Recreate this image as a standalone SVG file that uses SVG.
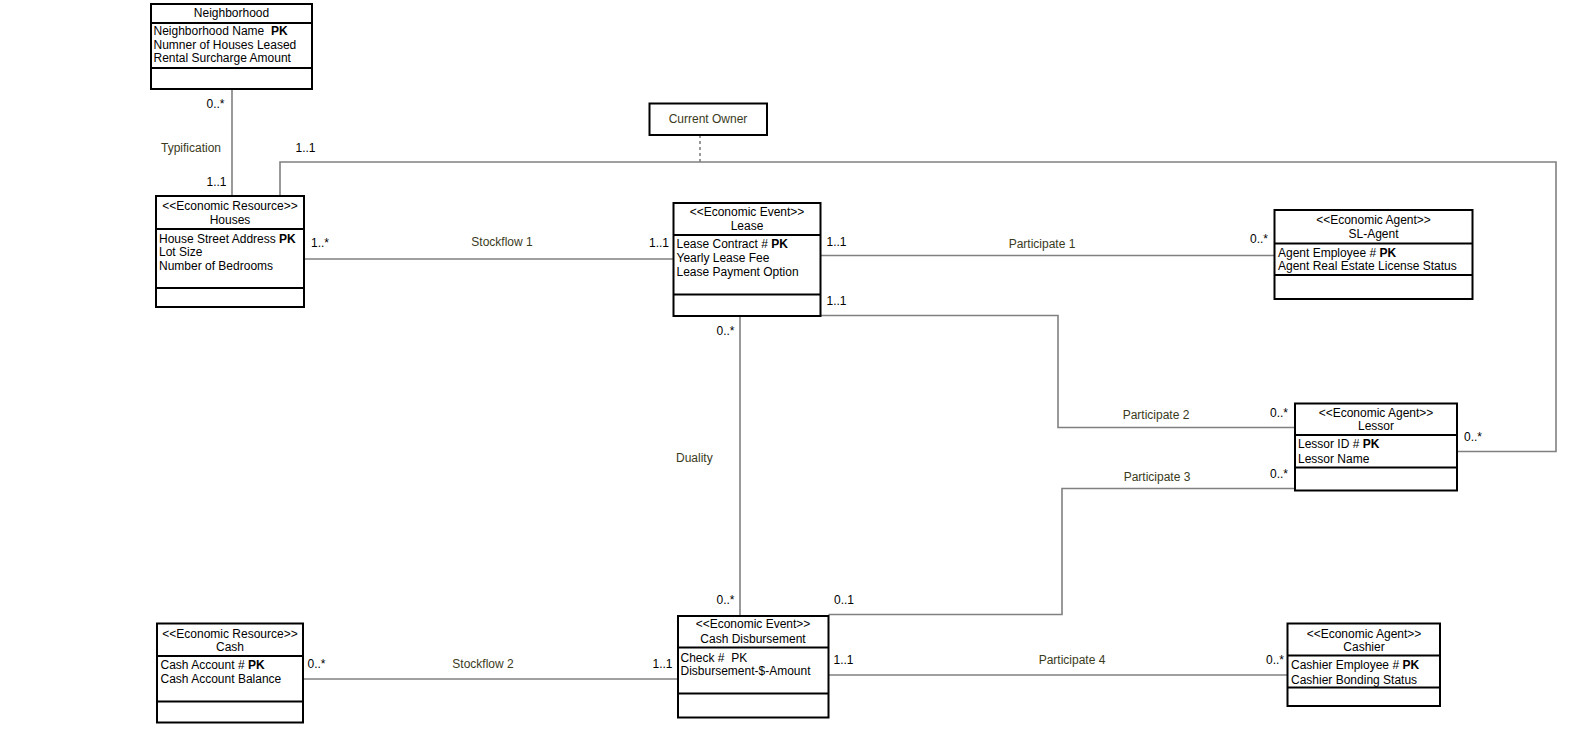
<svg xmlns="http://www.w3.org/2000/svg" width="1582" height="742" viewBox="0 0 1582 742">
<style>
.box{fill:#fff;stroke:#000;stroke-width:2}
.sep{stroke:#000;stroke-width:2}
.t{font-family:"Liberation Sans",Arial,sans-serif;font-size:12px;fill:#000}
.st{font-family:"Liberation Sans",Arial,sans-serif;font-size:12px;fill:#000;text-anchor:middle}
.c{text-anchor:middle}
.b{font-weight:bold}
.lbl{font-family:"Liberation Sans",Arial,sans-serif;font-size:12px;fill:#3a3a1c}
.m{font-family:"Liberation Sans",Arial,sans-serif;font-size:12px;fill:#000}
.ln{fill:none;stroke:#808080;stroke-width:1.6}
.dash{fill:none;stroke:#808080;stroke-width:1.6;stroke-dasharray:3,3}
</style>
<rect width="1582" height="742" fill="#fff"/>
<g id="connectors">
<line class="ln" x1="232" y1="89" x2="232" y2="196"/>
<polyline class="ln" points="280,196 280,162 1556,162 1556,451.5 1457,451.5"/>
<line class="dash" x1="700" y1="135" x2="700" y2="162"/>
<line class="ln" x1="304" y1="259" x2="673.5" y2="259"/>
<line class="ln" x1="820.5" y1="255.5" x2="1274.5" y2="255.5"/>
<polyline class="ln" points="820.5,315.5 1058,315.5 1058,427.5 1295,427.5"/>
<polyline class="ln" points="828.5,614.5 1062,614.5 1062,488.5 1295,488.5"/>
<line class="ln" x1="740" y1="316" x2="740" y2="616"/>
<line class="ln" x1="303" y1="679" x2="678" y2="679"/>
<line class="ln" x1="828.5" y1="675" x2="1287.5" y2="675"/>
<text class="m" x="206.5" y="107.5">0..*</text>
<text class="lbl" x="161" y="151.5">Typification</text>
<text class="m" x="295.5" y="151.5">1..1</text>
<text class="m" x="206.5" y="186">1..1</text>
<text class="m" x="311" y="247">1..*</text>
<text class="lbl c" x="502" y="246">Stockflow 1</text>
<text class="m" x="649" y="247">1..1</text>
<text class="m" x="826.5" y="245.5">1..1</text>
<text class="m" x="826.5" y="304.5">1..1</text>
<text class="lbl c" x="1042" y="248">Participate 1</text>
<text class="m" x="1250" y="243">0..*</text>
<text class="m" x="716.5" y="334.5">0..*</text>
<text class="lbl" x="676" y="462">Duality</text>
<text class="m" x="716.5" y="604">0..*</text>
<text class="m" x="834" y="604">0..1</text>
<text class="lbl c" x="1156" y="419">Participate 2</text>
<text class="lbl c" x="1157" y="480.5">Participate 3</text>
<text class="m" x="1270" y="416.5">0..*</text>
<text class="m" x="1270" y="478">0..*</text>
<text class="m" x="1464" y="441">0..*</text>
<text class="m" x="307.5" y="667.5">0..*</text>
<text class="lbl c" x="483" y="667.5">Stockflow 2</text>
<text class="m" x="652.5" y="668">1..1</text>
<text class="m" x="833.5" y="664">1..1</text>
<text class="lbl c" x="1072" y="664">Participate 4</text>
<text class="m" x="1266" y="664">0..*</text>
</g>
<g id="neighborhood">
<rect class="box" x="151" y="4" width="161" height="85"/>
<line class="sep" x1="151" y1="23" x2="312" y2="23"/>
<line class="sep" x1="151" y1="68" x2="312" y2="68"/>
<text class="t c" x="231.5" y="16.5">Neighborhood</text>
<text class="t" x="153.5" y="35" xml:space="preserve">Neighborhood Name  <tspan class="b">PK</tspan></text>
<text class="t" x="153.5" y="48.5">Numner of Houses Leased</text>
<text class="t" x="153.5" y="62">Rental Surcharge Amount</text>
</g>
<g id="houses">
<rect class="box" x="156" y="196" width="148" height="111"/>
<line class="sep" x1="156" y1="229" x2="304" y2="229"/>
<line class="sep" x1="156" y1="288" x2="304" y2="288"/>
<text class="st" x="230" y="209.5">&lt;&lt;Economic Resource&gt;&gt;</text>
<text class="t c" x="230" y="224">Houses</text>
<text class="t" x="159" y="242.5">House Street Address <tspan class="b">PK</tspan></text>
<text class="t" x="159" y="255.5">Lot Size</text>
<text class="t" x="159" y="269.5">Number of Bedrooms</text>
</g>
<g id="current-owner">
<rect class="box" x="649.5" y="103.5" width="117.5" height="31.5"/>
<text class="lbl c" x="708" y="123">Current Owner</text>
</g>
<g id="lease">
<rect class="box" x="673.5" y="203" width="147" height="113"/>
<line class="sep" x1="673.5" y1="235" x2="820.5" y2="235"/>
<line class="sep" x1="673.5" y1="294.5" x2="820.5" y2="294.5"/>
<text class="st" x="747" y="215.5">&lt;&lt;Economic Event&gt;&gt;</text>
<text class="t c" x="747" y="230">Lease</text>
<text class="t" x="676.5" y="248">Lease Contract # <tspan class="b">PK</tspan></text>
<text class="t" x="676.5" y="261.5">Yearly Lease Fee</text>
<text class="t" x="676.5" y="275.5">Lease Payment Option</text>
</g>
<g id="sl-agent">
<rect class="box" x="1274.5" y="210" width="198" height="89"/>
<line class="sep" x1="1274.5" y1="243.5" x2="1472.5" y2="243.5"/>
<line class="sep" x1="1274.5" y1="275" x2="1472.5" y2="275"/>
<text class="st" x="1373.5" y="223.5">&lt;&lt;Economic Agent&gt;&gt;</text>
<text class="t c" x="1373.5" y="238">SL-Agent</text>
<text class="t" x="1278" y="256.5">Agent Employee # <tspan class="b">PK</tspan></text>
<text class="t" x="1278" y="270">Agent Real Estate License Status</text>
</g>
<g id="lessor">
<rect class="box" x="1295" y="403.5" width="162" height="87"/>
<line class="sep" x1="1295" y1="435" x2="1457" y2="435"/>
<line class="sep" x1="1295" y1="467.5" x2="1457" y2="467.5"/>
<text class="st" x="1376" y="416.5">&lt;&lt;Economic Agent&gt;&gt;</text>
<text class="t c" x="1376" y="430">Lessor</text>
<text class="t" x="1298" y="448">Lessor ID # <tspan class="b">PK</tspan></text>
<text class="t" x="1298" y="462.5">Lessor Name</text>
</g>
<g id="cash">
<rect class="box" x="157" y="623.5" width="146" height="99"/>
<line class="sep" x1="157" y1="656" x2="303" y2="656"/>
<line class="sep" x1="157" y1="701.5" x2="303" y2="701.5"/>
<text class="st" x="230" y="637.5">&lt;&lt;Economic Resource&gt;&gt;</text>
<text class="t c" x="230" y="651">Cash</text>
<text class="t" x="160.5" y="669">Cash Account # <tspan class="b">PK</tspan></text>
<text class="t" x="160.5" y="683">Cash Account Balance</text>
</g>
<g id="cash-disbursement">
<rect class="box" x="678" y="616" width="150.5" height="101.5"/>
<line class="sep" x1="678" y1="647.5" x2="828.5" y2="647.5"/>
<line class="sep" x1="678" y1="693.5" x2="828.5" y2="693.5"/>
<text class="st" x="753" y="628">&lt;&lt;Economic Event&gt;&gt;</text>
<text class="t c" x="753" y="643">Cash Disbursement</text>
<text class="t" x="680.5" y="661.5" xml:space="preserve">Check #  PK</text>
<text class="t" x="680.5" y="675">Disbursement-$-Amount</text>
</g>
<g id="cashier">
<rect class="box" x="1287.5" y="623.5" width="152.5" height="82.5"/>
<line class="sep" x1="1287.5" y1="655.5" x2="1440" y2="655.5"/>
<line class="sep" x1="1287.5" y1="687.5" x2="1440" y2="687.5"/>
<text class="st" x="1364" y="637.5">&lt;&lt;Economic Agent&gt;&gt;</text>
<text class="t c" x="1364" y="651">Cashier</text>
<text class="t" x="1291" y="669">Cashier Employee # <tspan class="b">PK</tspan></text>
<text class="t" x="1291" y="683.5">Cashier Bonding Status</text>
</g>
</svg>
